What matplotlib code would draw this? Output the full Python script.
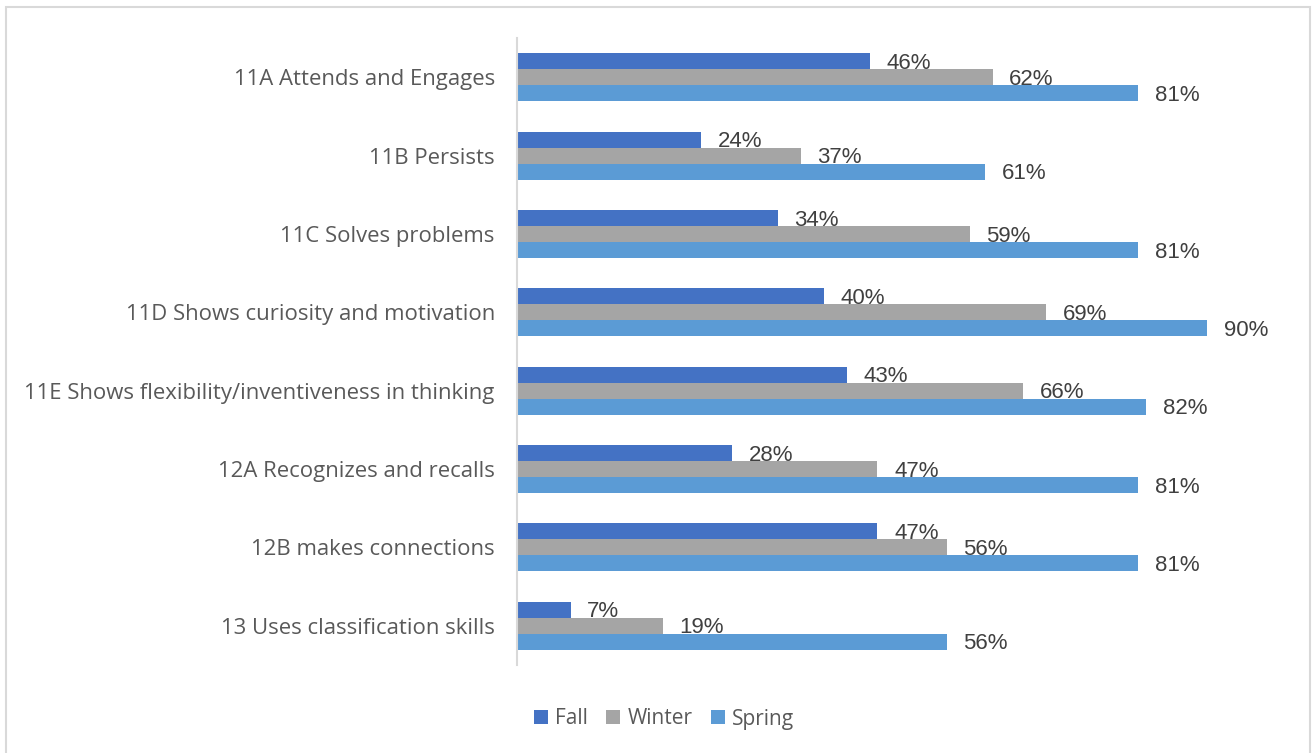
import numpy as np
import matplotlib.pyplot as plt
from matplotlib.patches import Rectangle

categories = [
    '11A Attends and Engages',
    '11B Persists',
    '11C Solves problems',
    '11D Shows curiosity and motivation',
    '11E Shows flexibility/inventiveness in thinking',
    '12A Recognizes and recalls',
    '12B makes connections',
    '13 Uses classification skills',
]
fall = [46, 24, 34, 40, 43, 28, 47, 7]
winter = [62, 37, 59, 69, 66, 47, 56, 19]
spring = [81, 61, 81, 90, 82, 81, 81, 56]
series = ['Fall', 'Winter', 'Spring']
colors = ['#4472C4', '#A5A5A5', '#5B9BD5']

W, H = 1312, 753
fig = plt.figure(figsize=(W / 100, H / 100), dpi=100)
fig.patches.append(Rectangle((6 / W, -0.05), (1310 - 6) / W, (H - 7) / H + 0.05,
                             transform=fig.transFigure, fill=False,
                             edgecolor='#D9D9D9', linewidth=1.5))

ax = fig.add_axes([517 / W, (H - 665) / H, 767 / W, 627 / H])
y = np.arange(len(categories))
bh = 0.204
for k, (vals, name, col) in enumerate(zip([fall, winter, spring], series, colors)):
    pos = y + (k - 1) * bh
    ax.barh(pos, vals, height=bh, color=col, label=name, zorder=2)
    for p, v in zip(pos, vals):
        ax.annotate(f'{v}%', (v, p), xytext=(12, -1.5), textcoords='offset points',
                    ha='left', va='center', fontsize=16, color='#404040',
                    family='Liberation Sans', zorder=1)

ax.set_xlim(0, 100)
ax.set_ylim(len(categories) - 0.5, -0.5)
ax.set_yticks(y)
ax.set_yticklabels(categories, fontsize=15.9, color='#595959', family='Open Sans')
ax.tick_params(axis='y', length=0, pad=16)
ax.set_xticks([])
for s in ['top', 'right', 'bottom']:
    ax.spines[s].set_visible(False)
ax.spines['left'].set_color('#D9D9D9')
ax.spines['left'].set_linewidth(1.5)

fig.legend(loc='center', bbox_to_anchor=(664 / W, (H - 719) / H), ncol=3,
           frameon=False, handlelength=0.65, handleheight=0.65, handletextpad=0.35,
           columnspacing=0.9, prop={'family': 'Open Sans', 'size': 15},
           labelcolor='#595959')

fig.savefig('out.png', dpi=100)
